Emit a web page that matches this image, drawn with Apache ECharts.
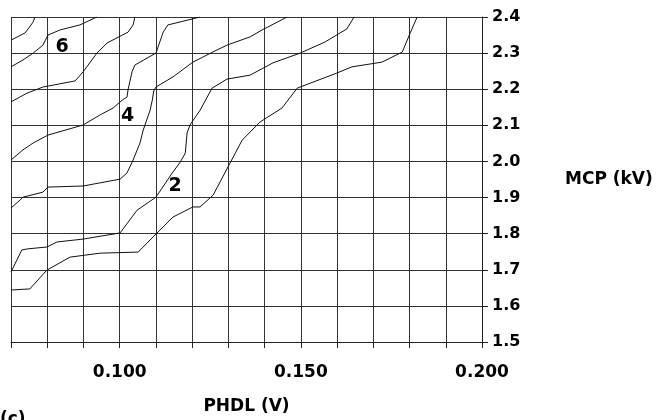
<!DOCTYPE html>
<html>
<head>
<meta charset="utf-8">
<script src="https://cdn.jsdelivr.net/npm/echarts@6/dist/echarts.min.js"></script>
<style>html,body{margin:0;padding:0;background:#fff;}#chart{width:657px;height:420px;}</style>
</head>
<body>
<div id="chart"></div>
<script>
// Contour lines, each a list of [PHDL (V), MCP (kV)] points
const contour1 = [[0.0700,1.644],[0.0752,1.647],[0.0799,1.699],[0.0863,1.735],[0.0946,1.746],[0.1051,1.749],[0.1100,1.799],[0.1147,1.846],[0.1202,1.874],[0.1222,1.874],[0.1258,1.907],[0.1299,1.985],[0.1338,2.059],[0.1387,2.109],[0.1448,2.148],[0.1490,2.203],[0.1600,2.245],[0.1641,2.262],[0.1724,2.275],[0.1780,2.303],[0.1802,2.356],[0.1821,2.400]];
const contour2 = [[0.0700,1.694],[0.0730,1.755],[0.0747,1.758],[0.0799,1.763],[0.0827,1.777],[0.0899,1.785],[0.1001,1.802],[0.1048,1.865],[0.1100,1.901],[0.1145,1.968],[0.1167,1.998],[0.1181,2.023],[0.1186,2.079],[0.1194,2.101],[0.1222,2.142],[0.1255,2.203],[0.1296,2.228],[0.1360,2.239],[0.1423,2.273],[0.1498,2.300],[0.1567,2.331],[0.1627,2.367],[0.1647,2.400]];
const contour3 = [[0.0700,1.871],[0.0725,1.893],[0.0733,1.901],[0.0788,1.915],[0.0802,1.929],[0.0899,1.932],[0.1001,1.951],[0.1020,1.968],[0.1037,2.004],[0.1056,2.051],[0.1065,2.087],[0.1084,2.142],[0.1090,2.170],[0.1094,2.195],[0.1100,2.206],[0.1147,2.234],[0.1202,2.275],[0.1257,2.303],[0.1296,2.322],[0.1360,2.345],[0.1393,2.364],[0.1462,2.400]];
const contour4 = [[0.0700,2.004],[0.0733,2.032],[0.0761,2.051],[0.0802,2.073],[0.0899,2.101],[0.0946,2.129],[0.0982,2.148],[0.1007,2.170],[0.1020,2.178],[0.1023,2.198],[0.1034,2.248],[0.1042,2.267],[0.1100,2.300],[0.1106,2.317],[0.1120,2.358],[0.1133,2.378],[0.1222,2.400]];
const contour5 = [[0.0700,2.165],[0.0744,2.189],[0.0788,2.206],[0.0877,2.223],[0.0899,2.248],[0.0937,2.300],[0.0965,2.328],[0.1023,2.358],[0.1037,2.378],[0.1042,2.400]];
const contour6 = [[0.0700,2.262],[0.0733,2.281],[0.0761,2.300],[0.0788,2.322],[0.0802,2.350],[0.0835,2.364],[0.0890,2.378],[0.0937,2.400]];
const contour7 = [[0.0700,2.336],[0.0739,2.356],[0.0761,2.386],[0.0766,2.400]];

// Contour value labels
const labelText = ['6', '4', '2'];
const labelX = [0.0841, 0.1022, 0.1153];
const labelY = [2.317, 2.126, 1.933];

// Axes
const xMin = 0.07, xMax = 0.20, xStep = 0.01;
const xLabelValues = [0.100, 0.150, 0.200];
const yMin = 1.5, yMax = 2.4, yStep = 0.1;

const FONT = 'DejaVu Sans';
const contours = [contour1, contour2, contour3, contour4, contour5, contour6, contour7];

const chart = echarts.init(document.getElementById('chart'), null, {renderer: 'canvas'});
const lineSeries = contours.map((c, i) => ({
  type: 'line',
  name: 'c' + (i + 1),
  data: c,
  symbol: 'none',
  smooth: false,
  silent: true,
  lineStyle: {color: '#111', width: 1},
  z: 3
}));

const option = {
  animation: false,
  backgroundColor: '#fff',
  grid: {left: 11, top: 17, width: 471, height: 325.5},
  xAxis: {
    type: 'value', min: xMin, max: xMax, interval: xStep,
    name: 'PHDL (V)', nameLocation: 'middle', nameGap: 56,
    nameTextStyle: {fontFamily: FONT, fontWeight: 'bold', fontSize: 17, color: '#000'},
    axisLine: {show: true, lineStyle: {color: '#222', width: 1}},
    axisTick: {show: true, length: 6, lineStyle: {color: '#222', width: 1}},
    axisLabel: {
      margin: 22, fontFamily: FONT, fontWeight: 'bold', fontSize: 17, color: '#000',
      formatter: v => xLabelValues.some(t => Math.abs(t - v) < 1e-6) ? v.toFixed(3) : ''
    },
    splitLine: {show: true, lineStyle: {color: '#333', width: 1}}
  },
  yAxis: {
    type: 'value', position: 'right', min: yMin, max: yMax, interval: yStep,
    name: 'MCP (kV)', nameLocation: 'middle', nameRotate: 0, nameGap: 83,
    nameTextStyle: {fontFamily: FONT, fontWeight: 'bold', fontSize: 17, color: '#000', align: 'left', padding: [6, 0, 0, 0]},
    axisLine: {show: true, lineStyle: {color: '#222', width: 1}},
    axisTick: {show: true, length: 6, lineStyle: {color: '#222', width: 1}},
    axisLabel: {margin: 10, fontFamily: FONT, fontWeight: 'bold', fontSize: 16, color: '#000',
      formatter: v => v.toFixed(1)},
    splitLine: {show: true, lineStyle: {color: '#333', width: 1}}
  },
  series: lineSeries.concat([{
    type: 'scatter',
    silent: true,
    data: labelText.map((t, i) => ({name: t, value: [labelX[i], labelY[i]]})),
    symbol: 'circle',
    symbolSize: 0,
    itemStyle: {color: '#000', opacity: 1},
    label: {show: true, position: 'inside', formatter: p => p.name,
      fontFamily: FONT, fontWeight: 'bold', fontSize: 19, color: '#000', opacity: 1},
    z: 5
  }]),
  graphic: [{
    type: 'text', left: 0, top: 411,
    style: {text: '(c)', font: 'bold 17px "DejaVu Sans"', fill: '#000'}
  }]
};
chart.setOption(option);
</script>
</body>
</html>
